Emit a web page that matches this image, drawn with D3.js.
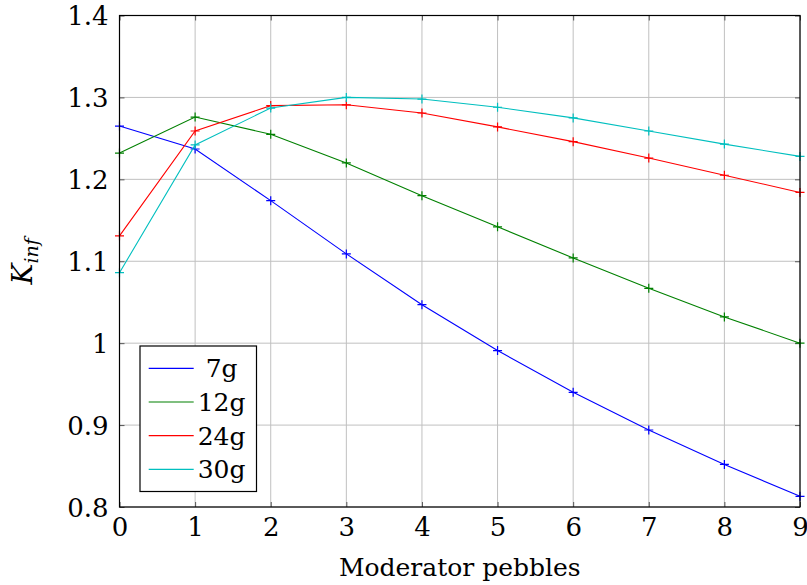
<!DOCTYPE html>
<html>
<head>
<meta charset="utf-8">
<script src="https://cdn.jsdelivr.net/npm/d3@7"></script>
<style>
  body { margin: 0; background: #fff; }
  svg text { fill: #000; }
</style>
</head>
<body>
<div id="chart"></div>
<script>
// ----------------------------
// DATA
// ----------------------------
const pebbles = [0, 1, 2, 3, 4, 5, 6, 7, 8, 9];
const seriesNames = ["7g", "12g", "24g", "30g"];
const k7 = [1.265, 1.237, 1.174, 1.109, 1.047, 0.991, 0.940, 0.894, 0.852, 0.813];
const k12 = [1.232, 1.276, 1.255, 1.220, 1.180, 1.142, 1.104, 1.067, 1.032, 1.000];
const k24 = [1.131, 1.259, 1.290, 1.291, 1.281, 1.264, 1.246, 1.226, 1.205, 1.184];
const k30 = [1.086, 1.242, 1.287, 1.300, 1.298, 1.288, 1.275, 1.259, 1.243, 1.228];
const yTicks = [0.8, 0.9, 1.0, 1.1, 1.2, 1.3, 1.4];
const yTickLabels = ["0.8", "0.9", "1", "1.1", "1.2", "1.3", "1.4"];
const colors = ["#0000ff", "#008000", "#ff0000", "#00bfbf"];

const FONT = "DejaVu Serif";

const series = [k7, k12, k24, k30].map((vals, i) => ({
  name: seriesNames[i],
  color: colors[i],
  values: vals.map((v, j) => ({ x: pebbles[j], y: v }))
}));

// ----------------------------
// LAYOUT
// ----------------------------
const width = 807;
const height = 585;
const margin = { top: 15.5, right: 7, bottom: 78, left: 119.5 };
const innerW = width - margin.left - margin.right;
const innerH = height - margin.top - margin.bottom;

const svg = d3.select("#chart")
  .append("svg")
  .attr("width", width)
  .attr("height", height)
  .attr("font-family", FONT);

const g = svg.append("g").attr("transform", `translate(${margin.left},${margin.top})`);

const x = d3.scaleLinear().domain([0, 9]).range([0, innerW]);
const y = d3.scaleLinear().domain([0.8, 1.4]).range([innerH, 0]);

// ----------------------------
// GRID
// ----------------------------
g.append("g")
  .selectAll("line")
  .data(pebbles)
  .join("line")
  .attr("x1", d => x(d)).attr("x2", d => x(d))
  .attr("y1", 0).attr("y2", innerH)
  .attr("stroke", "#c0c0c0")
  .attr("stroke-width", 1);

g.append("g")
  .selectAll("line")
  .data(yTicks)
  .join("line")
  .attr("x1", 0).attr("x2", innerW)
  .attr("y1", d => y(d)).attr("y2", d => y(d))
  .attr("stroke", "#c0c0c0")
  .attr("stroke-width", 1);

// ----------------------------
// AXES (ticks inside, labels outside)
// ----------------------------
const xAxis = g.append("g")
  .attr("transform", `translate(0,${innerH})`)
  .call(d3.axisBottom(x).tickValues(pebbles).tickFormat(d3.format("d")).tickSizeInner(-5).tickSizeOuter(0).tickPadding(11));

const yAxis = g.append("g")
  .call(d3.axisLeft(y).tickValues(yTicks).tickFormat((d, i) => yTickLabels[i]).tickSizeInner(-5).tickSizeOuter(0).tickPadding(11));

[xAxis, yAxis].forEach(ax => {
  ax.attr("font-family", FONT).attr("font-size", 26);
  ax.select(".domain").remove();
  ax.selectAll(".tick line").attr("stroke", "#555");
});
xAxis.selectAll(".tick text").attr("dy", "0.71em");
yAxis.selectAll(".tick text").attr("dy", "0.36em");

// top / right ticks
g.append("g").call(d3.axisTop(x).tickValues(pebbles).tickFormat("").tickSizeInner(-5).tickSizeOuter(0))
  .call(a => a.select(".domain").remove())
  .selectAll(".tick line").attr("stroke", "#555");
g.append("g").attr("transform", `translate(${innerW},0)`)
  .call(d3.axisRight(y).tickValues(yTicks).tickFormat("").tickSizeInner(-5).tickSizeOuter(0))
  .call(a => a.select(".domain").remove())
  .selectAll(".tick line").attr("stroke", "#555");

// ----------------------------
// LINES + MARKERS
// ----------------------------
const line = d3.line().x(d => x(d.x)).y(d => y(d.y));

series.forEach(s => {
  g.append("path")
    .datum(s.values)
    .attr("fill", "none")
    .attr("stroke", s.color)
    .attr("stroke-width", 1.1)
    .attr("d", line);

  g.append("g")
    .selectAll("path")
    .data(s.values)
    .join("path")
    .attr("d", d => `M${x(d.x) - 4.5},${y(d.y)}H${x(d.x) + 4.5}M${x(d.x)},${y(d.y) - 4.5}V${y(d.y) + 4.5}`)
    .attr("stroke", s.color)
    .attr("stroke-width", 1.2);
});

// frame
g.append("rect")
  .attr("width", innerW)
  .attr("height", innerH)
  .attr("fill", "none")
  .attr("stroke", "#000")
  .attr("stroke-width", 1.2);

// ----------------------------
// LABELS
// ----------------------------
svg.append("text")
  .attr("x", margin.left + innerW / 2)
  .attr("y", 576)
  .attr("text-anchor", "middle")
  .attr("font-size", 25)
  .text("Moderator pebbles");

const ylab = svg.append("text")
  .attr("transform", `translate(32,${margin.top + innerH / 2}) rotate(-90)`)
  .attr("text-anchor", "middle")
  .attr("font-size", 28)
  .attr("font-style", "italic");
ylab.append("tspan").text("K");
ylab.append("tspan").attr("font-size", 19).attr("dy", 6).text("inf");

// ----------------------------
// LEGEND
// ----------------------------
const legend = svg.append("g").attr("transform", "translate(140,346)");

legend.append("rect")
  .attr("width", 116.5)
  .attr("height", 145.5)
  .attr("fill", "#fff")
  .attr("stroke", "#000")
  .attr("stroke-width", 1.2);

const items = legend.selectAll(".legend-item")
  .data(series)
  .join("g")
  .attr("class", "legend-item")
  .attr("transform", (_, i) => `translate(0,${22.3 + i * 33.7})`);

items.append("line")
  .attr("x1", 8.7).attr("x2", 53.7)
  .attr("stroke", d => d.color)
  .attr("stroke-width", 1.2);

items.append("text")
  .attr("x", 81.6)
  .attr("y", 9)
  .attr("text-anchor", "middle")
  .attr("font-size", 25)
  .text(d => d.name);
</script>
</body>
</html>
